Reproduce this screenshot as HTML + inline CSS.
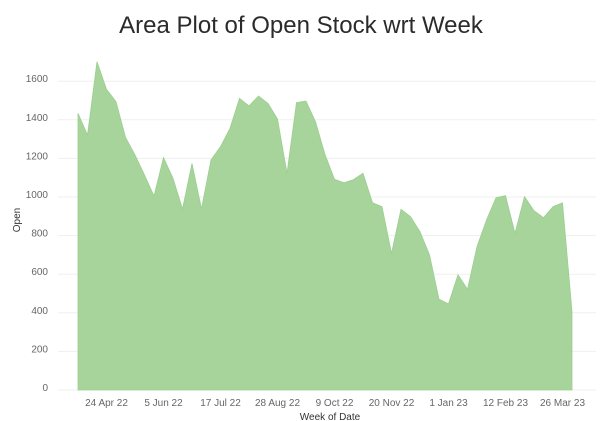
<!DOCTYPE html>
<html><head><meta charset="utf-8"><style>
body{margin:0;background:#fff;}
svg{display:block;font-family:"Liberation Sans",sans-serif;}
</style></head><body>
<svg id="chart" width="602" height="421">
<text x="301" y="33" text-anchor="middle" font-size="24" fill="#2b2b2b">Area Plot of Open Stock wrt Week</text>
<g id="grid"></g><g id="area"></g><g id="yticks"></g><g id="xticks"></g>
<text transform="translate(20,220) rotate(-90)" text-anchor="middle" font-size="10" fill="#333">Open</text>
<text x="330" y="420" text-anchor="middle" font-size="10" fill="#333">Week of Date</text>
</svg>
<script>
const openValues=[1434,1321,1701,1558,1494,1309,1218,1114,1005,1204,1097,938,1174,938,1192,1261,1356,1511,1472,1523,1485,1404,1123,1489,1497,1390,1220,1092,1074,1090,1123,970,950,708,936,898,820,700,470,446,597,522,743,881,996,1007,812,1002,929,893,950,970,406];
const yTicks=[0,200,400,600,800,1000,1200,1400,1600];
const xTickLabels=["24 Apr 22","5 Jun 22","17 Jul 22","28 Aug 22","9 Oct 22","20 Nov 22","1 Jan 23","12 Feb 23","26 Mar 23"];
const xTickIndex=[3,9,15,21,27,33,39,45,51];
const NS="http://www.w3.org/2000/svg";
const x=i=>78+i*9.5;
const y=v=>390-v*0.193;
function mk(t,a,p){const e=document.createElementNS(NS,t);for(const k in a)e.setAttribute(k,a[k]);document.getElementById(p).appendChild(e);return e;}
yTicks.forEach(v=>{
 const l=mk('line',{x1:58,x2:596,y1:y(v),y2:y(v),stroke:'#efefef','stroke-width':1},'grid');
 
 
 const t=mk('text',{x:48,y:y(v)+1,'text-anchor':'end','font-size':10,fill:'#666'},'yticks');
 t.textContent=v;
 
 
});
let d='M'+x(0)+','+y(0);
openValues.forEach((v,i)=>{d+=' L'+x(i)+','+y(v);});
d+=' L'+x(openValues.length-1)+','+y(0)+'Z';
const a=mk('path',{d:d,fill:'#a6d49b',stroke:'#9ccf90','stroke-width':0.8},'area');


xTickLabels.forEach((s,k)=>{
 const t=mk('text',{x:x(xTickIndex[k]),y:406,'text-anchor':'middle','font-size':10,fill:'#666'},'xticks');
 t.textContent=s;
 
 
});
</script>
</body></html>
